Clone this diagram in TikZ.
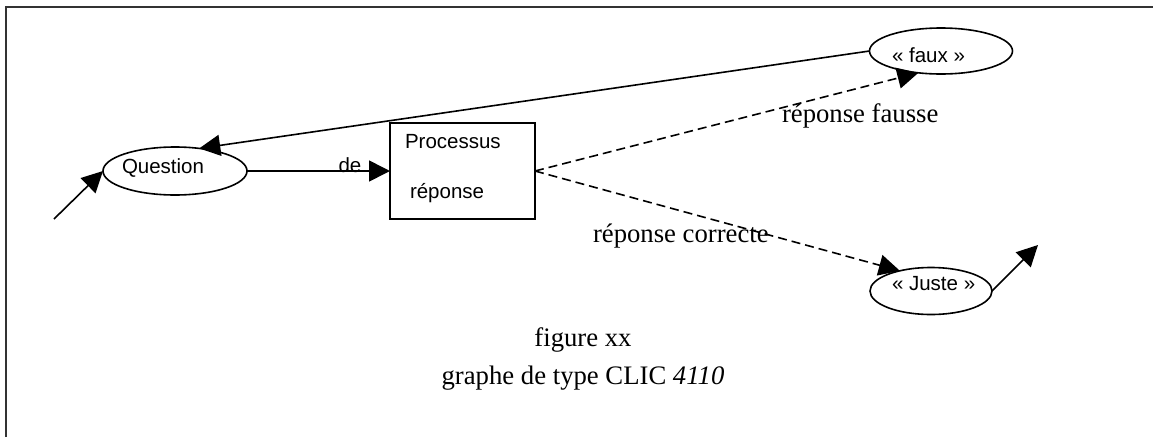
\documentclass[tikz,border=0pt]{standalone}
\usepackage{fontspec}
\setmainfont{Liberation Serif}
\newfontfamily\arialf{Liberation Sans}
\usetikzlibrary{arrows.meta,shapes.geometric}
\begin{document}
\begin{tikzpicture}[x=1pt,y=-1pt,
  every node/.style={inner sep=0pt, outer sep=0pt},
  oval/.style={ellipse, draw, line width=1.6pt},
  procbox/.style={rectangle, draw, line width=1.6pt},
  sanstext/.style={font=\arialf\fontsize{20.5}{24}\selectfont, anchor=base west},
  seriftext/.style={font=\fontsize{26.7}{38}\selectfont},
  arr/.style={line width=1.6pt, -{Triangle[length=21pt,width=21pt]}},
  darr/.style={arr, dash pattern=on 9pt off 5pt}
]
\useasboundingbox (0,0) rectangle (1153,437);
% frame
\draw[line width=2pt, black!80] (6,437) -- (6,7) -- (1153,7);

% nodes
\node[oval, minimum width=144pt, minimum height=48pt] (question) at (175,171) {};
\node[sanstext] (questiontxt) at (122,173) {Question};
\node[procbox, minimum width=145pt, minimum height=96pt] (proc) at (462.5,171) {};
\node[sanstext] (proctxt1) at (405,148) {Processus};
\node[sanstext] (proctxt2) at (410,198) {réponse};
\node[oval, minimum width=143pt, minimum height=46pt] (faux) at (941,51) {};
\node[sanstext] (fauxtxt) at (892,62) {« faux »};
\node[oval, minimum width=122pt, minimum height=47pt] (juste) at (931,291) {};
\node[sanstext] (justetxt) at (892,290) {« Juste »};

\coordinate (in) at (54,219);
\coordinate (out) at (1038,245);

% connectors
\draw[arr] (in) -- (question.west);
\draw[arr] (question.east) -- node[pos=0.72, anchor=base, font=\arialf\fontsize{20.5}{24}\selectfont, yshift=-1pt] (de) {de} (proc.west);
\draw[arr] (faux.west) -- (question.43);
\draw[darr] (proc.east) -- (faux.224);
\draw[darr] (proc.east) -- (juste.147);
\draw[arr] (juste.east) -- (out);

% labels
\node[seriftext, anchor=base west] (lfausse) at (782,122) {réponse fausse};
\node[seriftext, anchor=base west] (lcorrecte) at (593,242) {réponse correcte};
\node[seriftext, align=center, anchor=base] (caption) at (583,384) {figure xx\\graphe de type CLIC \textit{4110}};
\end{tikzpicture}
\end{document}
